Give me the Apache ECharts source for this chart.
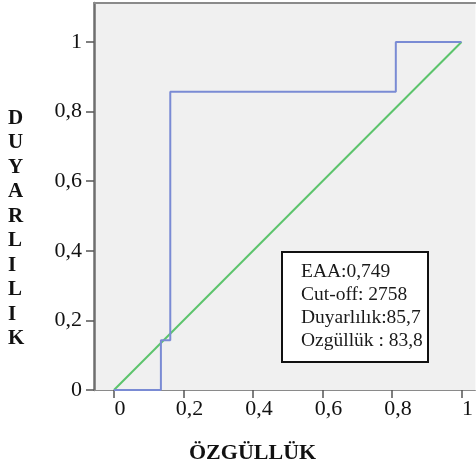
<!DOCTYPE html>
<html>
<head>
<meta charset="utf-8">
<script src="https://cdn.jsdelivr.net/npm/echarts@6/dist/echarts.min.js"></script>
<style>html,body{margin:0;padding:0;background:#fff;}#c{width:476px;height:474px;}</style>
</head>
<body>
<div id="c"></div>
<script>
// ROC curve data (1 - specificity, sensitivity)
const rocX = [0, 0.135, 0.135, 0.162, 0.162, 0.811, 0.811, 1];
const rocY = [0, 0, 0.143, 0.143, 0.857, 0.857, 1, 1];
const refX = [0, 1];
const refY = [0, 1];
const tickValues = [0, 0.2, 0.4, 0.6, 0.8, 1];
const tickLabels = ['0', '0,2', '0,4', '0,6', '0,8', '1'];
const xTitle = 'ÖZGÜLLÜK';
const yTitle = 'DUYARLILIK';
const boxLines = ['EAA:0,749', 'Cut-off: 2758', 'Duyarlılık:85,7', 'Ozgüllük : 83,8'];

const FONT = 'Liberation Serif';
const labelFor = v => {
  const i = tickValues.findIndex(t => Math.abs(t - v) < 1e-6);
  return i >= 0 ? tickLabels[i] : '';
};

const chart = echarts.init(document.getElementById('c'), null, {renderer: 'canvas'});
chart.setOption({
  animation: false,
  backgroundColor: '#ffffff',
  grid: {
    left: 94, right: 0, top: 3, bottom: 84,
    show: true, backgroundColor: '#f0f0f0', borderWidth: 0,
    containLabel: false
  },
  xAxis: [
    {
      type: 'value', min: -0.0575, max: 1.040, position: 'bottom',
      splitLine: {show: false},
      axisLine: {show: true, onZero: false, lineStyle: {color: '#8a8a8a', width: 1}},
      axisTick: {show: true, inside: false, length: 8, customValues: tickValues, lineStyle: {color: '#555', width: 1.5}},
      axisLabel: {
        customValues: tickValues, formatter: labelFor, margin: 8,
        fontFamily: FONT, fontSize: 22, color: '#111', padding: [0, 0, 0, 12]
      }
    },
    {
      type: 'value', min: -0.0575, max: 1.040, position: 'top',
      splitLine: {show: false},
      axisLine: {show: true, onZero: false, lineStyle: {color: '#8a8a8a', width: 2}},
      axisTick: {show: false}, axisLabel: {show: false}
    }
  ],
  yAxis: {
    type: 'value', min: 0, max: 1.112,
    splitLine: {show: false},
    axisLine: {show: true, onZero: false, lineStyle: {color: '#6e6e6e', width: 2.5}},
    axisTick: {show: true, inside: false, length: 8, customValues: tickValues, lineStyle: {color: '#555', width: 1.5}},
    axisLabel: {
      customValues: tickValues, formatter: labelFor, margin: 12,
      fontFamily: FONT, fontSize: 22, color: '#111'
    }
  },
  series: [
    {
      type: 'line', data: refX.map((x, i) => [x, refY[i]]),
      symbol: 'none', lineStyle: {color: '#5cc46c', width: 2}, z: 2
    },
    {
      type: 'line', data: rocX.map((x, i) => [x, rocY[i]]),
      symbol: 'none', lineStyle: {color: '#7a8bd4', width: 2}, z: 3
    }
  ],
  graphic: [
    {
      type: 'text', left: 8, top: 106,
      style: {
        text: yTitle.split('').join('\n'), font: 'bold 21px "Liberation Serif"',
        lineHeight: 24.5, fill: '#111', align: 'center', width: 20
      }
    },
    {
      type: 'text', left: 189, top: 442,
      style: {text: xTitle, font: 'bold 22px "Liberation Serif"', fill: '#111'}
    },
    {
      type: 'group', left: 281, top: 251,
      children: [
        {type: 'rect', shape: {x: 0, y: 0, width: 146, height: 110},
         style: {fill: '#ffffff', stroke: '#111', lineWidth: 2}},
        {type: 'text', x: 19, y: 8,
         style: {text: boxLines.join('\n'), font: '19.5px "Liberation Serif"', lineHeight: 23, fill: '#1a1a1a'}}
      ]
    }
  ]
});
</script>
</body>
</html>
